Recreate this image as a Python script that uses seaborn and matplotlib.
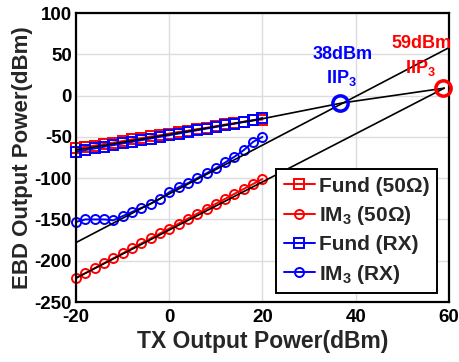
import numpy as np
import pandas as pd
import matplotlib
matplotlib.use("Agg")
import matplotlib.pyplot as plt
import seaborn as sns

# ---- data ----
tx_power = [-20, -18, -16, -14, -12, -10, -8, -6, -4, -2, 0,
            2, 4, 6, 8, 10, 12, 14, 16, 18, 20]
fund_50 = [-64, -62, -60.5, -58.5, -57, -55, -53, -51.5, -49.5, -48, -46,
           -44, -42.5, -40.5, -39, -37, -35, -33.5, -31.5, -30, -29]
im3_50 = [-221, -215, -209, -203, -197, -191, -185, -179, -173, -167, -161,
          -155, -149, -143, -137, -131, -125, -119, -113, -107, -101]
fund_rx = [-68, -66, -64, -62, -60, -58, -56, -54, -52, -50, -48,
           -46, -44, -42, -40, -38, -36, -34, -32, -30, -27]
im3_rx = [-153, -150, -150, -150, -151, -146, -141, -136, -131, -125, -117,
          -111, -106, -100, -94, -88, -81, -74, -66, -56, -50]

# extrapolation lines (black)
fund_line_x = [-20, 20, 37, 59]
fund_line_y = [-66, -28, -9, 9]
im3_rx_line_x = [-20, 60]
im3_rx_line_y = [-178, 58]
im3_50_line_x = [-20, 59]
im3_50_line_y = [-221, 9]

iip3_rx = (36.7, -9)
iip3_50 = (58.7, 9)

series = {
    "Fund (50Ω)": fund_50,
    "IM$_3$ (50Ω)": im3_50,
    "Fund (RX)": fund_rx,
    "IM$_3$ (RX)": im3_rx,
}
styles = {
    "Fund (50Ω)": ("red", "s"),
    "IM$_3$ (50Ω)": ("red", "o"),
    "Fund (RX)": ("blue", "s"),
    "IM$_3$ (RX)": ("blue", "o"),
}

sns.set_style("whitegrid")
plt.rcParams["font.family"] = ["Liberation Sans", "DejaVu Sans"]
plt.rcParams["font.weight"] = "bold"
plt.rcParams["mathtext.default"] = "bf"
plt.rcParams["mathtext.fontset"] = "custom"
plt.rcParams["mathtext.bf"] = "Liberation Sans:bold"
plt.rcParams["mathtext.rm"] = "Liberation Sans:bold"
plt.rcParams["axes.unicode_minus"] = False

fig = plt.figure(figsize=(4.59, 3.62), dpi=100)
ax = fig.add_axes([0.1656, 0.1657, 0.8124, 0.7983])

# black reference lines
ax.plot(fund_line_x, fund_line_y, color="black", lw=1.2, zorder=3)
ax.plot(im3_rx_line_x, im3_rx_line_y, color="black", lw=1.2, zorder=3)
ax.plot(im3_50_line_x, im3_50_line_y, color="black", lw=1.2, zorder=3)

for name, vals in series.items():
    color, marker = styles[name]
    df = pd.DataFrame({"x": tx_power, "y": vals})
    sns.lineplot(data=df, x="x", y="y", ax=ax, color=color, marker=marker,
                 markersize=6.5, markerfacecolor="none", markeredgecolor=color,
                 markeredgewidth=1.4, lw=1.4, label=name, zorder=2,
                 clip_on=False)

# IIP3 markers
ax.plot([iip3_rx[0]], [iip3_rx[1]], marker="o", ms=11, mfc="none", mec="blue",
        mew=2.5, clip_on=False, zorder=5)
ax.plot([iip3_50[0]], [iip3_50[1]], marker="o", ms=11, mfc="none", mec="red",
        mew=2.5, clip_on=False, zorder=5)

ax.text(37.2, 50, "38dBm", color="blue", ha="center", va="center",
        fontsize=13, fontweight="bold")
ax.text(37, 21, "IIP$_3$", color="blue", ha="center", va="center",
        fontsize=13, fontweight="bold")
ax.text(54.2, 63, "59dBm", color="red", ha="center", va="center",
        fontsize=13, fontweight="bold")
ax.text(53.8, 33, "IIP$_3$", color="red", ha="center", va="center",
        fontsize=13, fontweight="bold")

ax.set_xlim(-20, 60)
ax.set_ylim(-250, 100)
ax.set_xticks([-20, 0, 20, 40, 60])
ax.set_yticks([-250, -200, -150, -100, -50, 0, 50, 100])
ax.set_xlabel("TX Output Power(dBm)", fontsize=16.5, fontweight="bold", labelpad=3)
ax.set_ylabel("EBD Output Power(dBm)", fontsize=16, fontweight="bold", labelpad=1)
ax.tick_params(axis="both", labelsize=13.5, direction="in", length=4, width=1.2,
               colors="black")
ax.tick_params(axis="x", pad=5)
ax.tick_params(axis="y", pad=3)
for lab in ax.get_xticklabels() + ax.get_yticklabels():
    lab.set_fontweight("bold")
ax.grid(True, color="#dcdcdc", lw=1)
for sp in ax.spines.values():
    sp.set_color("black")
    sp.set_linewidth(1.6)

leg = ax.legend(loc="lower right", bbox_to_anchor=(0.968, 0.031), fontsize=15,
                frameon=True, fancybox=False, edgecolor="black",
                handlelength=1.5, handletextpad=0.2, borderpad=0.35,
                labelspacing=0.4, borderaxespad=0)
leg.get_frame().set_linewidth(1.4)
leg.get_frame().set_alpha(1)
for t in leg.get_texts():
    t.set_fontweight("bold")

fig.savefig("out.png", dpi=100)
